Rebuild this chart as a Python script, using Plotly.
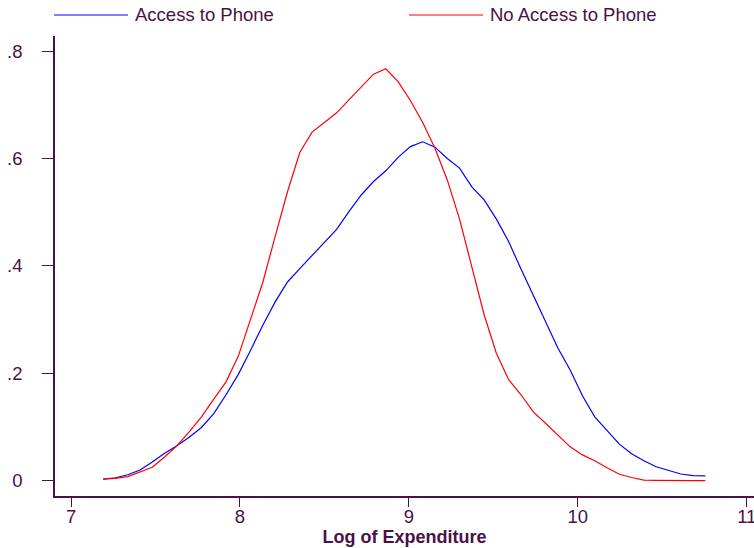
import numpy as np
import plotly.graph_objects as go

# grid of evaluation points (log of expenditure)
x_start = 7.19
x_end = 10.755
n_points = 50
log_exp = list(np.linspace(x_start, x_end, n_points))

access_phone = [
    0.003, 0.0055, 0.011, 0.020, 0.035, 0.051, 0.065, 0.081, 0.099, 0.125,
    0.160, 0.198, 0.243, 0.290, 0.333, 0.370, 0.395, 0.420, 0.443, 0.468,
    0.501, 0.532, 0.557, 0.577, 0.602, 0.622, 0.631, 0.621, 0.600, 0.582,
    0.547, 0.523, 0.487, 0.445, 0.394, 0.344, 0.294, 0.247, 0.206, 0.158,
    0.119, 0.094, 0.068, 0.050, 0.037, 0.026, 0.019, 0.0125, 0.0093, 0.0088,
]
no_access_phone = [
    0.003, 0.0045, 0.0075, 0.016, 0.025, 0.044, 0.065, 0.091, 0.119, 0.152,
    0.184, 0.232, 0.300, 0.370, 0.455, 0.538, 0.611, 0.649, 0.667, 0.685,
    0.709, 0.734, 0.757, 0.767, 0.743, 0.708, 0.667, 0.619, 0.560, 0.487,
    0.400, 0.309, 0.237, 0.188, 0.160, 0.128, 0.107, 0.085, 0.063, 0.048,
    0.037, 0.024, 0.012, 0.006, 0.001, 0.0005, 0.0, 0.0, 0.0, 0.0,
]

x_ticks = [7, 8, 9, 10, 11]
y_ticks = [0, 0.2, 0.4, 0.6, 0.8]
y_ticktext = ["0", ".2", ".4", ".6", ".8"]
series_names = ["Access to Phone", "No Access to Phone"]
x_title = "Log of Expenditure"

TXT = "#4a1048"
FONT = "Liberation Sans, Arial, sans-serif"

fig = go.Figure()
fig.add_trace(go.Scatter(x=log_exp, y=access_phone, mode="lines",
                         line=dict(color="#0000ff", width=1.2), name=series_names[0]))
fig.add_trace(go.Scatter(x=log_exp, y=no_access_phone, mode="lines",
                         line=dict(color="#ff0000", width=1.2), name=series_names[1]))

fig.update_layout(
    width=754, height=548,
    margin=dict(l=55, r=0, t=36, b=52, autoexpand=False),
    paper_bgcolor="white", plot_bgcolor="white",
    showlegend=False,
    font=dict(family=FONT, size=18, color=TXT),
)
fig.update_xaxes(
    range=[6.905, 11.043], tickvals=x_ticks, ticks="outside", ticklen=9,
    tickcolor=TXT, showline=True, linecolor=TXT, linewidth=1.5,
    showgrid=False, zeroline=False, automargin=False,
    ticklabeloverflow="allow", ticklabelstandoff=-6,
    tickfont=dict(size=18.5, color=TXT),
    title=dict(text="<b>" + x_title + "</b>", font=dict(size=18, color=TXT), standoff=0),
)
fig.update_yaxes(
    range=[-0.0285, 0.828], tickvals=y_ticks, ticktext=y_ticktext, ticks="outside",
    ticklen=11, tickcolor=TXT, showline=True, linecolor=TXT, linewidth=1.5,
    showgrid=False, zeroline=False, ticklabelstandoff=16, automargin=False,
    tickfont=dict(size=18.5, color=TXT),
)

# legend drawn above the plot (paper coordinates)
leg_y = 1.0457
legend_items = [
    (-0.0014, 0.1044, 0.1116, "#0000ff", series_names[0]),
    (0.5064, 0.6123, 0.6195, "#ff0000", series_names[1]),
]
for x0, x1, xt, col, label in legend_items:
    fig.add_shape(type="line", xref="paper", yref="paper", x0=x0, x1=x1, y0=leg_y, y1=leg_y,
                  line=dict(color=col, width=1.2))
    fig.add_annotation(xref="paper", yref="paper", x=xt, y=leg_y, text=label,
                       showarrow=False, xanchor="left", yanchor="middle",
                       font=dict(size=18.5, color=TXT, family=FONT))

fig.write_html("out.html", config={"displayModeBar": False},
               post_script="document.body.style.margin='0';")
